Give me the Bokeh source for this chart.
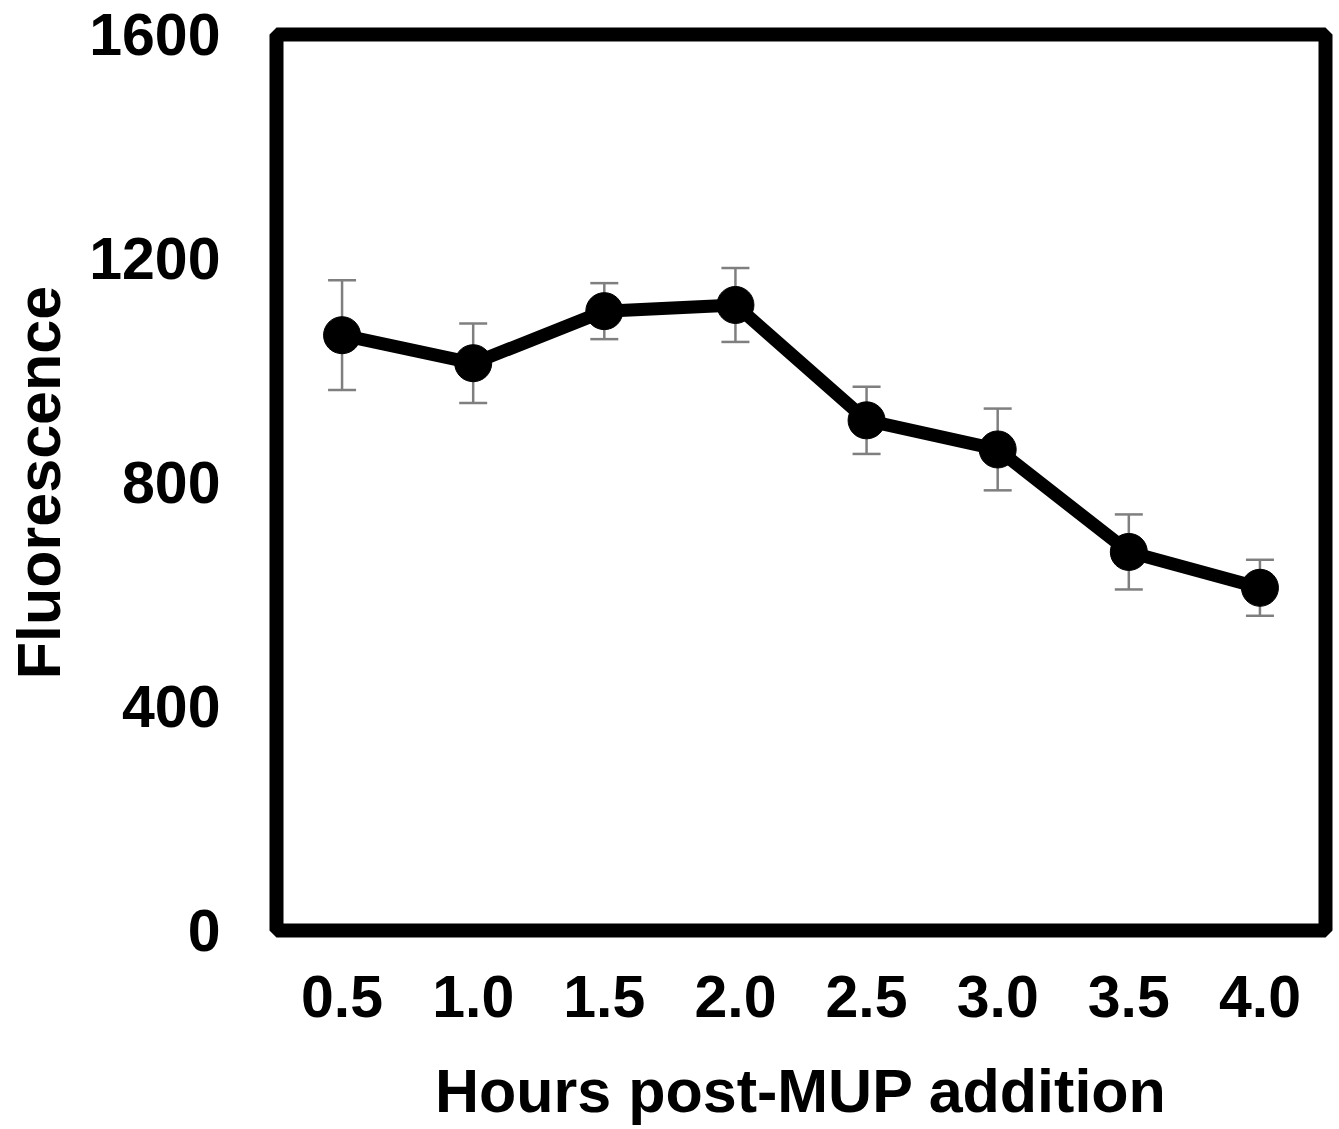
from bokeh.plotting import figure
from bokeh.models import ColumnDataSource, Whisker, FactorRange, Range1d, FixedTicker, TeeHead
from bokeh.embed import file_html
from bokeh.resources import INLINE

hours = ["0.5", "1.0", "1.5", "2.0", "2.5", "3.0", "3.5", "4.0"]
fluorescence = [1063, 1013, 1106, 1117, 911, 859, 676, 612]
errors = [98, 71, 50, 66, 60, 73, 67, 50]
y_ticks = [0, 400, 800, 1200, 1600]

upper = [v + e for v, e in zip(fluorescence, errors)]
lower = [v - e for v, e in zip(fluorescence, errors)]
src = ColumnDataSource(dict(x=hours, y=fluorescence, upper=upper, lower=lower))

FONT = "Liberation Sans"

p = figure(width=1339, height=1129, x_range=FactorRange(factors=hours, range_padding=0),
           y_range=Range1d(0, 1600), output_backend="svg", toolbar_location=None,
           min_border_left=276, min_border_right=14, min_border_top=34, min_border_bottom=199)

p.outline_line_color = "black"
p.outline_line_width = 14
p.outline_line_alpha = 1
p.xgrid.visible = False
p.ygrid.visible = False

w = Whisker(source=src, base="x", upper="upper", lower="lower", level="underlay",
            line_color="#7f7f7f", line_width=2.5)
w.upper_head = TeeHead(size=28, line_color="#7f7f7f", line_width=2.5)
w.lower_head = TeeHead(size=28, line_color="#7f7f7f", line_width=2.5)
p.add_layout(w)

p.line("x", "y", source=src, line_color="black", line_width=13, line_join="round")
p.scatter("x", "y", source=src, size=37, color="black")

for ax in (p.xaxis[0], p.yaxis[0]):
    ax.axis_line_color = None
    ax.major_tick_line_color = None
    ax.minor_tick_line_color = None
    ax.major_tick_out = 0
    ax.major_tick_in = 0
    ax.major_label_text_font = FONT
    ax.major_label_text_font_style = "bold"
    ax.major_label_text_font_size = "59px"
    ax.major_label_text_color = "black"
    ax.axis_label_text_font = FONT
    ax.axis_label_text_font_style = "bold"
    ax.axis_label_text_font_size = "61px"
    ax.axis_label_text_color = "black"

p.yaxis.ticker = FixedTicker(ticks=y_ticks)
p.yaxis.axis_label = "Fluorescence"
p.yaxis.major_label_standoff = 56
p.yaxis.axis_label_standoff = 13

p.xaxis.axis_label = "Hours post-MUP addition"
p.xaxis.major_label_standoff = 45
p.xaxis.axis_label_standoff = 37

open("out.html", "w").write(file_html(p, INLINE))
